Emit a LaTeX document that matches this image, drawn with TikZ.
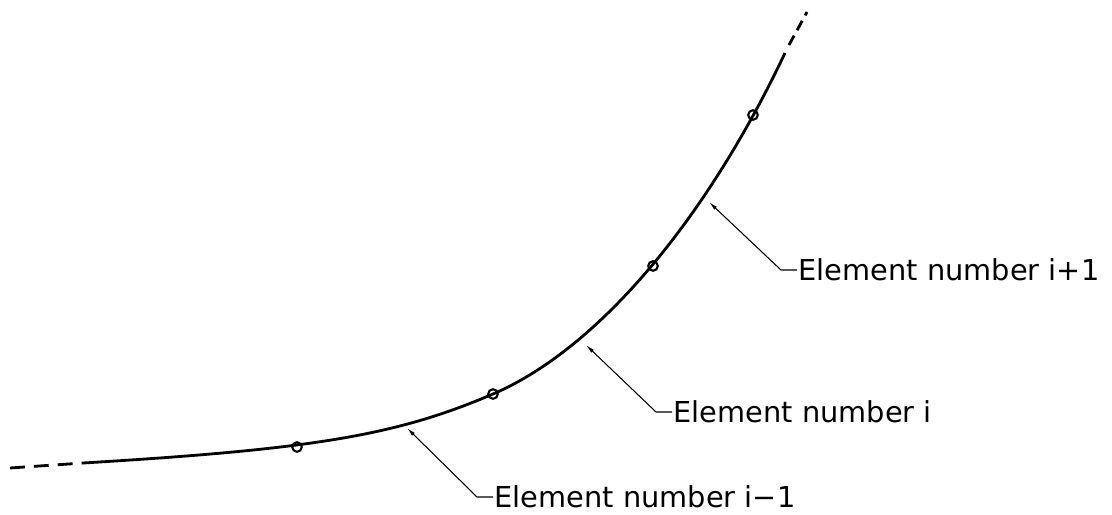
\documentclass[tikz,border=0pt]{standalone}
\usepackage{fontspec}
\usepackage{tikz}
\usetikzlibrary{arrows.meta}
\newfontfamily\cadfont{DejaVu Sans}
\tikzset{
  curve/.style={black, line width=2pt},
  curvedash/.style={curve, dash pattern=on 10.6pt off 6.4pt},
  topdash/.style={curve, dash pattern=on 7.6pt off 4.4pt},
  joint/.style={draw=black, circle, line width=1.5pt, minimum size=0.24cm,
                inner sep=0pt},
  leader/.style={black, line width=0.75pt,
                 -{Latex[length=6.4pt,width=2.8pt]}},
  lab/.style={anchor=west, inner sep=1pt,
              font=\cadfont\fontsize{20.5}{24}\selectfont},
}

\begin{document}
\begin{tikzpicture}[x=0.025cm,y=-0.025cm]
  \path[use as bounding box] (0,0) rectangle (1112,514);

  \coordinate (c0) at (83,463);
  \coordinate (c1) at (785,53);

  % element boundaries on the curve
  \node[joint] (n1) at (297,447) {};
  \node[joint] (n2) at (493,394) {};
  \node[joint] (n3) at (653,266) {};
  \node[joint] (n4) at (753,115) {};

  \coordinate (tip1) at (407,428);
  \coordinate (tip2) at (586,345);
  \coordinate (tip3) at (709,202);

  \draw[curve] (c0) .. controls (314.6,449.1) and (396.6,435.3) .. (n2.center)
    .. controls (596.2,349.7) and (704.2,223.5) .. (c1);
  \draw[curvedash] (10,468) -- (c0);
  \draw[topdash] (789,45) -- (807,12);

  \node[lab] (lab1) at (493,497) {Element number i−1};
  \node[lab] (lab2) at (672,412) {Element number i};
  \node[lab] (lab3) at (797,270) {Element number i+1};

  \draw[leader] (lab1.west) -- ++(-16,0) -- (tip1);
  \draw[leader] (lab2.west) -- ++(-16,0) -- (tip2);
  \draw[leader] (lab3.west) -- ++(-16,0) -- (tip3);
\end{tikzpicture}
\end{document}
